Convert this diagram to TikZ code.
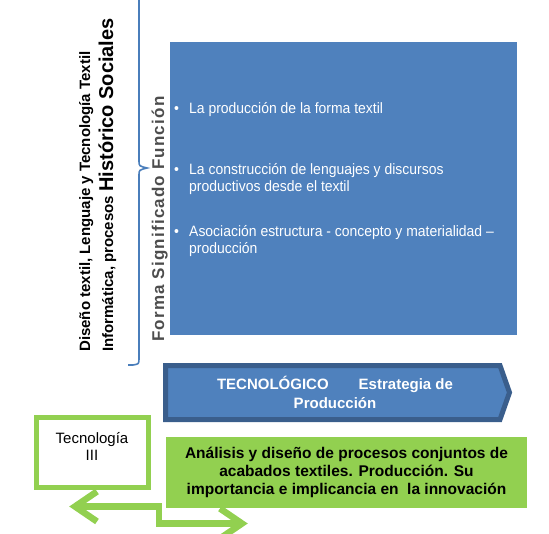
\documentclass[tikz,border=0pt]{standalone}
\usepackage{fontspec}
\setmainfont{Liberation Sans}
\newfontfamily\narrowfont[FakeStretch=0.93]{Liberation Sans}
\newfontfamily\spacedfont[LetterSpace=7]{Liberation Sans}
\definecolor{bluefill}{HTML}{4F81BD}
\definecolor{blueedge}{HTML}{3A5E8C}
\definecolor{bracecol}{HTML}{4A7EBB}
\definecolor{greenc}{HTML}{92D050}
\definecolor{formagray}{HTML}{4D4D4D}
\tikzset{
  sidetext/.style={rotate=90, anchor=base west, inner sep=0pt},
  bullettext/.style={anchor=base west, inner sep=0pt, text=white, font=\narrowfont\fontsize{15}{17}\selectfont},
  chevbox/.style={fill=bluefill, draw=blueedge, line width=5pt, line join=miter},
  greenline/.style={draw=greenc, line width=6.5pt, line join=miter},
}
\begin{document}
\begin{tikzpicture}[x=1pt,y=-1pt]
\useasboundingbox (0,0) rectangle (549,533);

% brace
\draw[bracecol, line width=1.6pt] (139,0) -- (139,161)
  .. controls (139,166) .. (147,168)
  .. controls (139,170) .. (139,175) -- (139,358)
  .. controls (139,364) .. (133,365) -- (128,365);

% left rotated texts
\node[sidetext, font=\fontsize{15}{18}\selectfont\bfseries] (l1) at (90,352) {Diseño textil, Lenguaje y Tecnología Textil};
\node[sidetext] (l2) at (113,352) {{\fontsize{15}{18}\selectfont\bfseries Informática, procesos }{\fontsize{20}{24}\selectfont\bfseries Histórico Sociales}};

% blue panel
\node[fill=bluefill, minimum width=347pt, minimum height=293pt, anchor=north west, inner sep=0pt] (panel) at (170,42) {};
\node[sidetext, text=formagray, font=\spacedfont\fontsize{17}{20}\selectfont\bfseries] (fsf) at (164,342) {Forma Significado Función};

\node[bullettext] (d1) at (174,113) {•};
\node[bullettext] (t1) at (189,113) {La producción de la forma textil};
\node[bullettext] (d2) at (174,174) {•};
\node[bullettext] (t2a) at (189,174) {La construcción de lenguajes y discursos};
\node[bullettext] (t2b) at (189,191) {productivos desde el textil};
\node[bullettext] (d3) at (174,236) {•};
\node[bullettext] (t3a) at (189,236) {Asociación estructura - concepto y materialidad –};
\node[bullettext] (t3b) at (189,253) {producción};

% chevron
\draw[chevbox] (165.5,365.5) -- (500,365.5) -- (509.5,392.5) -- (500,419.5) -- (165.5,419.5) -- cycle;
\node[text=white, align=center, font=\fontsize{15}{19}\selectfont\bfseries] (tec) at (335,392.5) {TECNOLÓGICO\hspace{30pt}Estrategia de\\Producción};

% Tecnologia III box
\node[draw=greenc, line width=5pt, fill=white, minimum width=112pt, minimum height=70pt, inner sep=0pt] (tec3) at (92,452) {};
\node[align=center, font=\fontsize{15}{17}\selectfont] (tec3t) at (92,446.5) {Tecnología\\III};

% green box
\node[fill=greenc, minimum width=361pt, minimum height=71pt, inner sep=0pt, align=center, font=\fontsize{15.5}{18}\selectfont\bfseries] (ana) at (346.5,472.5) {Análisis y diseño de procesos conjuntos de\\acabados textiles. Producción. Su\\importancia e implicancia en~ la innovación};

% double arrow
\coordinate (aL) at (75,506.5);
\coordinate (aM1) at (159,506.5);
\coordinate (aM2) at (159,523.5);
\coordinate (aR) at (242,523.5);
\draw[greenline] (aL) -- (aM1) -- (aM2) -- (aR);
\draw[greenline] (aL) ++(22,-15) -- (aL) -- ++(22,15);
\draw[greenline] (aR) ++(-22,-15) -- (aR) -- ++(-22,15);
\end{tikzpicture}
\end{document}
